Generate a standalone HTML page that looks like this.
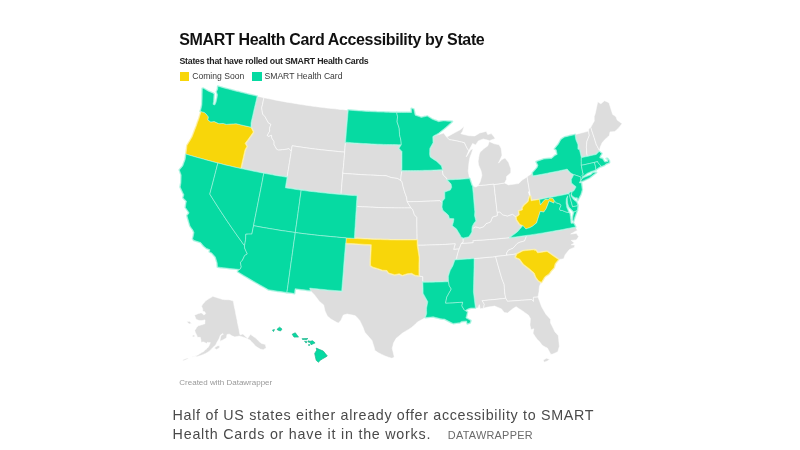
<!DOCTYPE html>
<html lang="en"><head><meta charset="utf-8"><title>SMART Health Card Accessibility by State</title>
<style>
html,body{margin:0;padding:0;background:#fff;}
body{width:800px;height:450px;position:relative;overflow:hidden;font-family:"Liberation Sans",sans-serif;color:#111;}
.t{position:absolute;white-space:nowrap;line-height:1;}
#title{left:179.3px;top:31.7px;font-size:16px;font-weight:bold;color:#111;letter-spacing:-0.36px;}
#sub{left:179.5px;top:56.9px;font-size:8.8px;font-weight:bold;color:#222;letter-spacing:-0.25px;}
.sw{position:absolute;top:71.8px;width:9.2px;height:9.2px;}
.lg{top:71.5px;font-size:8.6px;color:#3a3a3a;}
#credit{left:179.3px;top:379.2px;font-size:8px;color:#999;}
.cap{left:172.6px;font-size:14.3px;color:#4a4a4a;letter-spacing:0.68px;}
#dw{left:447.8px;top:429.5px;font-size:10.9px;color:#6a6a6a;letter-spacing:0.27px;}
svg{position:absolute;left:0;top:0;filter:blur(0.45px);}
.t{filter:blur(0.3px);}
.s{stroke:#fff;stroke-width:0.6;stroke-opacity:0.9;stroke-linejoin:round;}
.halo-t{fill:none;stroke:#b4f5e5;stroke-width:2;stroke-linejoin:round;}
.halo-y{fill:none;stroke:#fdf1ae;stroke-width:2;stroke-linejoin:round;}
.in-t{stroke:#c4f7ea;stroke-opacity:0.85;stroke-width:0.6;}
.in-y{stroke:#fdf3bb;stroke-opacity:0.85;stroke-width:0.6;}
.hi{stroke:#1fb48c;stroke-opacity:1;stroke-width:0.7;}
</style></head><body>
<svg width="800" height="450" viewBox="0 0 800 450">
<defs><path id="pOR" d="M200.4,111.3L202.4,111.9L204.3,112.4L206.1,114.1L207.3,115.5L208.4,116.9L207.9,120.1L209.3,121.0L210.8,122.0L212.4,121.8L214.1,121.5L216.5,122.6L218.9,123.7L221.1,123.6L223.2,123.4L224.8,123.9L226.5,124.4L228.8,124.2L231.2,124.0L233.5,123.9L236.0,123.7L238.5,124.3L241.0,124.9L243.5,125.5L246.0,126.1L248.4,126.6L250.9,127.2L252.1,129.6L253.3,132.0L251.2,135.1L249.0,138.1L247.1,140.7L245.1,143.3L246.8,146.4L245.0,149.8L244.1,153.5L243.3,157.2L242.4,161.0L241.6,164.7L240.7,168.5L237.9,167.8L235.0,167.2L232.1,166.5L229.3,165.8L226.4,165.2L223.6,164.5L220.8,163.7L217.9,163.0L215.0,162.3L212.1,161.5L209.2,160.7L206.2,159.9L203.3,159.1L200.4,158.3L197.5,157.5L194.6,156.7L191.7,155.8L188.8,155.0L185.9,154.1L186.3,151.2L186.7,148.4L187.0,145.5L188.7,142.7L190.4,139.9L192.1,137.0L193.5,133.4L194.9,129.7L196.3,126.1L197.5,122.6L198.8,119.1L199.9,115.5L201.0,112.0Z"/><path id="pOK" d="M346.2,237.9L348.9,238.1L351.6,238.2L354.3,238.4L357.6,238.6L360.9,238.8L364.2,239.0L367.5,239.1L370.8,239.3L374.1,239.4L377.4,239.5L380.7,239.6L384.1,239.7L387.4,239.8L390.7,239.9L394.0,239.9L397.3,240.0L400.6,240.0L403.9,240.0L407.2,240.0L410.5,240.0L413.8,240.0L417.1,239.9L417.1,242.6L417.2,245.3L417.8,249.2L418.4,253.1L419.0,257.0L419.0,260.8L418.9,264.5L418.9,268.3L418.9,272.1L418.9,275.8L417.0,275.5L415.1,275.2L413.4,274.3L411.6,273.3L409.4,273.5L407.2,273.7L404.8,274.5L402.3,275.3L399.2,273.7L397.0,274.2L394.8,274.7L391.7,273.8L388.7,273.0L387.0,270.5L384.8,270.3L382.6,270.2L380.0,269.3L377.4,268.4L375.2,267.8L373.0,267.2L370.5,265.4L370.6,261.2L370.8,257.1L371.0,252.9L371.2,248.8L371.3,244.7L368.2,244.5L365.0,244.4L361.8,244.2L358.6,244.0L355.4,243.8L352.2,243.6L349.0,243.4L345.8,243.2L346.0,240.5Z"/><path id="pWV" d="M516.3,217.1L517.8,215.9L519.3,214.7L518.8,211.0L520.6,210.5L522.4,209.9L522.4,207.8L524.1,205.3L526.2,203.4L528.3,201.4L528.9,198.9L529.6,196.4L530.4,196.2L530.7,198.5L531.1,200.8L533.9,200.3L536.7,199.9L539.5,199.4L540.0,202.1L540.4,204.8L541.7,203.2L543.0,201.5L545.4,199.1L548.1,199.7L549.8,197.9L552.8,198.2L554.0,200.2L554.4,201.0L553.9,203.1L551.5,202.0L549.1,200.9L548.2,203.5L547.2,206.0L546.2,208.6L545.0,210.3L543.8,212.1L542.0,211.7L540.2,211.4L539.0,215.2L537.8,219.0L536.6,222.9L534.6,224.5L532.5,226.2L529.5,227.8L527.7,228.3L525.9,228.9L524.4,227.3L522.9,225.6L519.9,224.4L518.3,222.0L516.7,219.7Z"/><path id="pSC" d="M517.1,253.9L520.0,252.4L522.9,250.9L525.9,250.6L528.8,250.3L531.7,250.0L534.7,249.7L534.8,250.8L535.7,250.1L537.5,252.8L540.6,252.4L543.8,251.9L547.0,251.5L549.9,253.5L552.7,255.6L555.6,257.6L558.5,259.6L556.8,261.6L555.2,263.6L554.6,265.6L554.1,267.6L552.6,269.2L551.1,270.8L548.9,273.9L546.8,275.3L544.8,276.7L543.0,279.7L541.4,282.3L538.7,280.9L537.2,279.0L535.8,277.1L535.0,275.0L534.2,273.0L531.6,270.7L529.0,268.4L526.3,266.4L523.5,264.3L521.6,261.7L519.7,259.1L517.6,258.2L515.5,257.3Z"/><path id="pWA" d="M200.4,111.3L201.2,108.2L201.9,105.1L202.0,103.5L202.1,100.2L202.2,96.9L202.2,94.1L202.3,91.2L202.3,88.4L203.3,88.3L205.6,89.6L207.8,90.9L210.1,91.9L212.5,92.9L214.0,93.9L213.8,97.1L213.7,99.2L213.6,101.4L213.0,104.3L214.8,105.0L216.1,102.1L216.5,100.0L217.0,98.0L217.5,94.8L216.5,91.8L217.7,88.9L217.8,86.2L220.4,86.9L223.0,87.7L225.6,88.4L228.2,89.1L230.8,89.8L233.4,90.5L236.1,91.2L238.7,91.8L241.3,92.5L243.9,93.1L246.6,93.8L249.2,94.4L251.9,95.0L254.5,95.6L257.1,96.2L256.3,100.0L255.4,103.8L254.5,107.6L253.6,111.4L252.8,115.2L251.9,119.0L251.0,122.9L251.0,125.0L250.9,127.2L248.4,126.6L246.0,126.1L243.5,125.5L241.0,124.9L238.5,124.3L236.0,123.7L233.5,123.9L231.2,124.0L228.8,124.2L226.5,124.4L224.8,123.9L223.2,123.4L221.1,123.6L218.9,123.7L216.5,122.6L214.1,121.5L212.4,121.8L210.8,122.0L209.3,121.0L207.9,120.1L208.4,116.9L207.3,115.5L206.1,114.1L204.3,112.4L202.4,111.9Z"/><path id="pCA" d="M185.9,154.1L188.8,155.0L191.7,155.8L194.6,156.7L197.5,157.5L200.4,158.3L203.3,159.1L206.2,159.9L209.2,160.7L212.1,161.5L215.0,162.3L217.9,163.0L216.9,166.9L215.9,170.8L214.9,174.7L213.9,178.5L212.9,182.4L211.9,186.3L210.8,190.2L209.8,194.1L211.7,197.1L213.6,200.2L215.6,203.3L217.5,206.3L219.5,209.4L221.5,212.5L223.5,215.5L225.5,218.6L227.5,221.6L229.6,224.6L231.7,227.7L233.8,230.7L235.9,233.7L238.0,236.7L240.2,239.7L242.3,242.7L244.5,245.7L244.6,247.9L245.9,250.9L247.3,253.9L244.6,255.6L243.5,258.0L242.3,260.5L240.4,262.3L240.8,264.6L241.3,266.9L239.9,269.5L239.0,269.4L235.9,269.1L232.8,268.8L229.8,268.5L226.7,268.1L223.6,267.8L220.6,267.4L217.5,267.0L217.2,262.9L216.3,260.0L215.4,257.0L213.6,255.0L211.8,252.9L209.4,251.8L209.9,249.7L208.2,249.0L206.6,248.4L205.1,247.2L203.6,246.0L202.2,244.3L200.8,242.5L198.5,241.8L196.1,241.0L193.7,240.2L192.7,238.8L193.4,235.7L194.0,232.5L192.9,230.0L191.4,228.0L190.0,225.9L189.0,222.5L188.0,219.1L187.0,215.7L189.1,212.9L187.9,210.9L186.7,209.2L185.4,207.4L185.9,204.2L186.4,201.0L184.7,199.4L183.0,197.8L183.9,194.8L182.6,192.2L181.4,189.6L180.2,187.0L180.6,184.9L181.0,182.8L181.1,178.9L181.2,175.0L180.3,172.5L179.4,170.0L181.1,168.0L182.8,166.0L184.0,162.7L185.2,159.5L185.6,156.8Z"/><path id="pNV" d="M217.9,163.0L220.8,163.7L223.6,164.5L226.4,165.2L229.3,165.8L232.1,166.5L235.0,167.2L237.9,167.8L240.7,168.5L243.6,169.1L246.5,169.7L249.4,170.3L252.3,170.9L255.1,171.5L258.0,172.1L260.9,172.7L263.8,173.2L263.0,177.3L262.3,181.3L261.5,185.3L260.7,189.4L259.9,193.4L259.1,197.4L258.3,201.5L257.5,205.5L256.7,209.6L255.9,213.6L255.1,217.6L254.3,221.7L253.6,225.7L252.7,229.9L251.9,234.1L248.9,234.1L245.8,234.2L245.7,236.8L245.6,239.4L245.1,242.6L244.5,245.7L242.3,242.7L240.2,239.7L238.0,236.7L235.9,233.7L233.8,230.7L231.7,227.7L229.6,224.6L227.5,221.6L225.5,218.6L223.5,215.5L221.5,212.5L219.5,209.4L217.5,206.3L215.6,203.3L213.6,200.2L211.7,197.1L209.8,194.1L210.8,190.2L211.9,186.3L212.9,182.4L213.9,178.5L214.9,174.7L215.9,170.8L216.9,166.9Z"/><path id="pUT" d="M263.8,173.2L266.7,173.8L269.6,174.3L272.5,174.8L275.4,175.4L278.3,175.9L281.3,176.3L284.2,176.8L287.1,177.3L286.5,180.8L285.9,184.3L285.4,187.8L288.0,188.2L290.7,188.6L293.3,189.0L295.9,189.4L298.6,189.8L301.2,190.2L300.7,194.0L300.1,197.9L299.6,201.7L299.1,205.6L298.5,209.4L298.0,213.3L297.5,217.1L296.9,221.0L296.4,224.8L295.8,228.7L295.3,232.5L292.1,232.1L288.9,231.6L285.6,231.1L282.4,230.7L279.2,230.2L276.0,229.6L272.8,229.1L269.6,228.6L266.4,228.0L263.2,227.5L260.0,226.9L256.8,226.3L253.6,225.7L254.3,221.7L255.1,217.6L255.9,213.6L256.7,209.6L257.5,205.5L258.3,201.5L259.1,197.4L259.9,193.4L260.7,189.4L261.5,185.3L262.3,181.3L263.0,177.3Z"/><path id="pCO" d="M301.2,190.2L304.3,190.6L307.3,191.0L310.4,191.4L313.4,191.7L316.5,192.1L319.6,192.4L322.6,192.8L325.7,193.1L328.8,193.4L331.8,193.7L334.9,194.0L338.0,194.3L341.0,194.6L343.7,194.8L346.3,195.0L349.0,195.2L351.7,195.4L354.3,195.6L357.0,195.7L356.8,199.3L356.5,202.8L356.3,206.4L356.1,210.4L355.8,214.4L355.6,218.4L355.3,222.4L355.1,226.4L354.8,230.4L354.6,234.4L354.3,238.4L351.6,238.2L348.9,238.1L346.2,237.9L343.0,237.6L339.8,237.4L336.7,237.1L333.5,236.8L330.3,236.5L327.1,236.2L323.9,235.9L320.7,235.6L317.5,235.3L314.4,234.9L311.2,234.5L308.0,234.2L304.8,233.8L301.7,233.4L298.5,233.0L295.3,232.5L295.8,228.7L296.4,224.8L296.9,221.0L297.5,217.1L298.0,213.3L298.5,209.4L299.1,205.6L299.6,201.7L300.1,197.9L300.7,194.0Z"/><path id="pAZ" d="M253.6,225.7L256.8,226.3L260.0,226.9L263.2,227.5L266.4,228.0L269.6,228.6L272.8,229.1L276.0,229.6L279.2,230.2L282.4,230.7L285.6,231.1L288.9,231.6L292.1,232.1L295.3,232.5L294.8,236.5L294.2,240.5L293.6,244.5L293.1,248.5L292.5,252.5L292.0,256.5L291.4,260.5L290.8,264.5L290.3,268.5L289.7,272.5L289.2,276.5L288.6,280.5L288.1,284.5L287.5,288.5L286.9,292.5L283.9,292.0L280.9,291.6L277.8,291.2L274.8,290.7L271.8,290.2L268.7,289.8L265.6,288.0L262.4,286.2L259.3,284.5L256.2,282.7L253.1,280.9L250.0,279.1L246.9,277.2L243.8,275.4L240.7,273.5L237.7,271.7L239.0,269.4L239.9,269.5L241.3,266.9L240.8,264.6L240.4,262.3L242.3,260.5L243.5,258.0L244.6,255.6L247.3,253.9L245.9,250.9L244.6,247.9L244.5,245.7L245.1,242.6L245.6,239.4L245.7,236.8L245.8,234.2L248.9,234.1L251.9,234.1L252.7,229.9Z"/><path id="pNM" d="M295.3,232.5L298.5,233.0L301.7,233.4L304.8,233.8L308.0,234.2L311.2,234.5L314.4,234.9L317.5,235.3L320.7,235.6L323.9,235.9L327.1,236.2L330.3,236.5L333.5,236.8L336.7,237.1L339.8,237.4L343.0,237.6L346.2,237.9L346.0,240.5L345.8,243.2L345.5,243.2L345.2,247.2L344.9,251.2L344.5,255.2L344.2,259.2L343.9,263.1L343.6,267.1L343.3,271.1L343.0,275.1L342.7,279.1L342.3,283.1L342.0,287.1L341.7,291.0L338.2,290.8L334.6,290.5L331.0,290.2L327.5,289.9L323.9,289.5L320.4,289.2L316.8,288.8L313.3,288.5L309.7,288.1L310.3,290.5L307.2,290.2L304.2,289.8L301.2,289.5L298.2,289.1L295.1,288.7L294.8,291.1L294.5,293.5L292.0,293.1L289.5,292.8L286.9,292.5L287.5,288.5L288.1,284.5L288.6,280.5L289.2,276.5L289.7,272.5L290.3,268.5L290.8,264.5L291.4,260.5L292.0,256.5L292.5,252.5L293.1,248.5L293.6,244.5L294.2,240.5L294.8,236.5Z"/><path id="pND" d="M348.3,110.1L351.0,110.3L353.6,110.5L356.3,110.7L359.0,110.9L361.7,111.1L364.4,111.3L367.1,111.4L369.8,111.6L372.5,111.7L375.1,111.8L377.8,112.0L380.5,112.1L383.2,112.1L385.9,112.2L388.6,112.3L391.3,112.4L394.0,112.4L396.7,112.5L397.1,114.6L397.6,116.7L397.3,119.3L397.1,121.9L398.2,125.1L399.2,128.2L399.4,131.4L399.5,134.5L400.3,137.7L401.0,140.9L401.3,144.7L398.3,144.7L395.4,144.6L392.4,144.6L389.5,144.5L386.6,144.5L383.6,144.4L380.7,144.3L377.8,144.2L374.8,144.1L371.9,143.9L369.0,143.8L366.0,143.6L363.1,143.5L360.2,143.3L357.2,143.1L354.3,142.9L351.4,142.7L348.4,142.4L345.5,142.2L345.9,138.2L346.2,134.1L346.5,130.1L346.9,126.1L347.2,122.1L347.6,118.1L347.9,114.1Z"/><path id="pMN" d="M396.7,112.5L399.1,112.5L401.6,112.5L404.1,112.5L406.5,112.5L409.0,112.5L411.5,112.5L411.4,108.5L413.8,109.1L414.4,112.1L415.1,115.2L417.1,115.9L419.2,116.6L421.2,117.4L423.2,117.0L425.2,116.6L427.2,116.1L429.6,117.6L432.0,119.1L434.2,120.0L436.4,120.8L438.6,121.7L440.9,121.3L443.3,120.9L445.5,121.0L447.8,121.2L450.1,121.3L452.3,121.4L450.1,123.4L447.9,125.4L445.6,127.4L443.4,129.3L440.9,131.3L438.4,133.3L436.3,134.4L434.1,135.6L432.8,136.6L432.9,139.7L433.0,142.8L431.4,145.6L429.8,148.4L429.7,151.3L429.6,154.3L430.1,156.9L431.8,158.2L433.6,159.4L435.2,160.4L436.7,161.4L439.1,163.7L441.5,166.0L442.3,169.7L439.5,169.8L436.6,169.9L433.7,170.1L430.8,170.2L427.9,170.3L425.0,170.3L422.1,170.4L419.3,170.5L416.4,170.5L413.5,170.6L410.6,170.6L407.7,170.6L404.8,170.6L401.9,170.6L402.0,166.8L402.0,162.9L402.0,159.1L402.0,155.3L402.0,151.5L400.5,149.9L399.1,148.3L400.2,146.5L401.3,144.7L401.0,140.9L400.3,137.7L399.5,134.5L399.4,131.4L399.2,128.2L398.2,125.1L397.1,121.9L397.3,119.3L397.6,116.7L397.1,114.6Z"/><path id="pIL" d="M447.4,180.0L450.2,179.8L453.0,179.7L455.8,179.5L458.5,179.4L461.3,179.2L464.1,179.0L466.9,178.8L469.6,178.6L470.7,181.9L471.8,185.3L472.5,186.2L472.8,189.8L473.2,193.5L473.5,197.2L473.8,200.8L474.1,204.5L474.4,208.2L474.8,211.8L474.5,215.6L475.2,218.2L475.8,220.9L473.9,223.2L472.2,226.5L471.9,228.7L471.8,231.9L470.3,234.4L468.8,236.8L466.0,237.4L463.2,238.0L461.0,237.0L460.2,235.0L458.3,231.9L456.4,228.8L454.4,227.3L452.4,225.8L453.0,223.6L453.6,221.4L453.9,218.7L451.7,218.6L449.5,218.5L448.5,215.3L446.7,213.6L444.8,211.9L442.9,210.2L442.0,207.1L442.4,203.0L442.5,201.2L444.8,198.4L444.8,195.2L444.8,192.0L447.6,191.0L450.3,190.1L451.7,187.3L451.1,184.1L449.3,182.1Z"/><path id="pLA" d="M422.9,282.3L426.1,282.3L429.3,282.2L432.5,282.2L435.7,282.1L438.9,282.0L442.1,281.9L445.3,281.8L448.5,281.7L448.9,283.8L449.3,285.9L451.3,289.0L450.1,291.2L448.8,293.4L447.8,295.3L446.7,297.2L446.2,300.1L445.6,303.1L449.1,302.9L452.5,302.8L455.9,302.6L459.3,302.4L462.7,302.1L461.9,305.9L462.9,307.7L464.0,309.5L465.2,310.7L467.4,311.9L466.7,315.2L465.9,317.9L468.4,319.3L470.8,320.7L470.0,322.9L467.3,323.8L466.6,321.0L464.0,321.2L461.5,321.4L459.7,322.7L456.4,323.1L453.2,323.4L451.2,322.5L449.3,321.5L446.9,320.3L444.5,319.1L442.7,318.9L440.8,318.7L438.3,318.1L435.8,317.5L433.3,316.8L430.7,317.1L428.1,317.3L425.5,317.6L426.1,315.5L426.7,313.3L426.6,310.7L426.6,308.0L427.2,304.9L427.8,301.8L426.6,299.6L425.4,297.4L424.3,295.4L423.1,293.3L423.1,289.7L423.0,286.0Z"/><path id="pMS" d="M454.9,259.9L458.0,259.7L461.0,259.5L464.0,259.3L467.1,259.1L470.1,258.9L473.1,258.6L474.1,259.6L474.0,263.7L474.0,267.7L473.9,271.7L473.8,275.7L473.7,279.7L473.6,283.8L473.5,287.8L473.4,291.8L473.9,295.8L474.4,299.9L474.9,303.9L475.4,307.9L473.1,308.0L470.8,308.0L469.0,308.6L467.2,309.3L465.2,310.7L464.0,309.5L462.9,307.7L461.9,305.9L462.7,302.1L459.3,302.4L455.9,302.6L452.5,302.8L449.1,302.9L445.6,303.1L446.2,300.1L446.7,297.2L447.8,295.3L448.8,293.4L450.1,291.2L451.3,289.0L449.3,285.9L448.9,283.8L448.5,281.7L448.4,279.0L448.4,276.3L449.3,273.3L450.3,270.3L451.6,268.1L452.8,265.9L453.9,262.9Z"/><path id="pNY" d="M573.8,174.6L572.1,173.7L570.5,172.8L568.8,170.9L567.2,169.1L564.4,169.7L561.5,170.3L558.7,170.9L555.8,171.5L553.0,172.1L550.2,172.6L547.3,173.2L544.5,173.7L541.6,174.3L538.8,174.8L535.9,175.3L533.0,175.8L532.5,172.9L534.1,171.1L535.7,169.3L537.2,167.5L538.0,165.2L536.2,161.7L538.8,160.8L541.3,159.9L543.9,159.0L546.5,158.8L549.1,158.6L551.7,158.4L553.4,156.9L555.0,155.4L557.2,154.4L556.7,152.0L556.2,149.7L554.5,149.0L556.3,146.7L558.2,144.4L559.6,141.9L561.0,139.4L562.8,138.2L564.7,137.0L567.3,136.4L569.8,135.8L572.4,135.2L575.0,134.6L575.4,137.2L575.9,139.8L576.9,142.3L577.9,144.8L577.9,147.0L577.9,149.2L579.4,149.4L580.0,152.1L580.7,154.9L581.3,157.7L581.3,161.5L581.3,165.3L582.1,169.3L582.8,173.2L583.6,174.1L581.9,175.6L582.7,176.5L582.1,178.7L580.7,180.3L580.8,177.0L578.5,176.2L576.2,175.4ZM580.7,181.4L583.0,180.9L585.1,179.9L587.2,178.9L589.3,177.9L591.7,176.1L594.1,174.2L596.4,172.4L594.7,172.5L593.0,172.7L591.0,174.8L588.8,175.6L586.5,176.4L584.4,177.3L582.4,178.3L581.1,179.7Z"/><path id="pMA" d="M581.3,157.7L583.4,157.2L585.4,156.8L587.5,156.4L590.4,155.7L593.4,155.1L596.3,154.4L597.0,153.7L598.9,151.8L599.5,151.7L601.8,153.5L600.1,156.2L599.7,157.9L602.3,158.4L603.8,160.7L604.7,162.1L606.4,161.8L608.1,161.4L607.6,159.1L606.3,158.6L607.7,158.6L609.3,160.9L609.4,162.5L607.7,163.3L605.9,164.0L604.4,165.3L602.0,166.2L601.0,166.4L599.9,164.7L597.9,162.8L597.6,161.6L596.0,162.0L594.4,162.4L591.8,163.0L589.2,163.6L586.6,164.2L583.9,164.8L581.3,165.3L581.3,161.5Z"/><path id="pCT" d="M581.3,165.3L583.9,164.8L586.6,164.2L589.2,163.6L591.8,163.0L594.4,162.4L595.0,164.6L595.6,166.7L595.9,169.8L593.5,170.7L591.0,171.5L589.2,172.4L587.3,173.2L585.0,174.9L582.7,176.5L581.9,175.6L583.6,174.1L582.8,173.2L582.1,169.3Z"/><path id="pRI" d="M594.4,162.4L596.0,162.0L597.6,161.6L597.9,162.8L599.9,164.7L601.0,166.4L599.0,167.5L597.5,168.6L595.9,169.8L595.6,166.7L595.0,164.6Z"/><path id="pNJ" d="M573.8,174.6L576.2,175.4L578.5,176.2L580.8,177.0L580.7,180.3L579.3,182.8L581.4,182.9L581.8,186.4L582.2,189.8L581.5,192.2L580.8,194.5L579.2,197.5L577.6,200.4L577.4,197.8L575.3,197.8L572.4,196.2L571.4,194.4L571.9,192.1L574.1,190.6L575.1,188.7L576.1,186.8L573.8,184.9L571.5,182.9L571.3,179.4L572.6,177.0Z"/><path id="pVA" d="M510.0,237.6L512.8,237.2L515.6,236.9L518.4,236.5L521.2,236.1L524.0,235.7L526.8,235.3L530.1,234.9L533.4,234.4L536.6,233.9L539.9,233.4L543.1,232.9L546.4,232.3L549.6,231.8L552.9,231.2L556.1,230.6L559.4,230.1L562.6,229.5L565.9,228.8L569.1,228.2L572.3,227.6L575.6,226.9L574.6,225.1L573.6,223.2L571.0,223.3L570.7,219.8L570.3,216.6L569.8,213.4L568.8,212.5L566.1,212.0L564.2,211.3L562.4,210.5L560.2,210.4L559.5,208.9L561.0,205.5L560.1,204.1L558.4,203.5L556.6,202.9L554.4,201.0L553.9,203.1L551.5,202.0L549.1,200.9L548.2,203.5L547.2,206.0L546.2,208.6L545.0,210.3L543.8,212.1L542.0,211.7L540.2,211.4L539.0,215.2L537.8,219.0L536.6,222.9L534.6,224.5L532.5,226.2L529.5,227.8L527.7,228.3L525.9,228.9L524.4,227.3L522.9,225.6L521.1,227.7L519.3,229.7L517.6,231.7L515.0,233.7L512.5,235.6ZM573.8,212.0L575.6,211.2L577.3,210.3L576.7,211.9L575.4,215.5L574.4,218.4L573.5,221.4L572.7,219.9L572.9,216.0L573.4,214.0Z"/><path id="pMD" d="M539.5,199.4L542.4,198.9L545.4,198.3L548.4,197.8L551.3,197.2L554.3,196.7L557.2,196.1L560.2,195.5L563.1,194.9L566.1,194.3L569.0,193.7L569.9,196.9L570.8,200.2L571.7,203.4L572.6,206.7L575.2,206.1L577.9,205.6L577.6,208.0L577.3,210.3L575.6,211.2L573.8,212.0L571.6,209.7L568.9,207.0L568.2,205.0L567.6,202.9L567.4,200.8L567.3,198.6L567.7,195.8L566.3,198.8L566.2,201.0L566.1,203.2L566.5,205.3L566.8,207.4L567.7,209.5L568.5,211.5L568.8,212.5L566.1,212.0L564.2,211.3L562.4,210.5L560.2,210.4L559.5,208.9L561.0,205.5L560.1,204.1L558.4,203.5L556.6,202.9L554.4,201.0L554.0,200.2L552.8,198.2L549.8,197.9L548.1,199.7L545.4,199.1L543.0,201.5L541.7,203.2L540.4,204.8L540.0,202.1Z"/><path id="pDE" d="M569.0,193.7L570.2,192.1L571.9,192.1L571.0,194.5L571.1,196.1L573.4,199.5L575.0,200.8L576.7,202.1L577.9,205.6L575.2,206.1L572.6,206.7L571.7,203.4L570.8,200.2L569.9,196.9Z"/></defs>
<g class="s"><path fill="#dddddd" d="M257.1,96.2L259.4,96.7L261.7,97.2L263.9,97.7L263.2,101.1L262.5,104.5L261.7,107.9L262.2,111.0L262.6,114.0L263.9,115.4L265.1,116.7L266.2,118.8L267.4,121.0L268.6,123.1L271.0,124.3L270.2,126.3L269.5,128.3L269.7,131.1L268.5,133.3L267.3,135.5L268.6,136.3L271.5,135.2L271.8,137.9L272.9,139.8L274.1,141.6L274.0,144.3L275.3,146.7L276.6,149.1L278.0,149.9L280.1,149.8L282.2,149.6L284.2,149.5L286.6,149.0L289.0,148.5L290.2,149.9L291.3,151.3L290.7,155.0L290.1,158.7L289.5,162.4L288.9,166.1L288.3,169.9L287.7,173.6L287.1,177.3L284.2,176.8L281.3,176.3L278.3,175.9L275.4,175.4L272.5,174.8L269.6,174.3L266.7,173.8L263.8,173.2L260.9,172.7L258.0,172.1L255.1,171.5L252.3,170.9L249.4,170.3L246.5,169.7L243.6,169.1L240.7,168.5L241.6,164.7L242.4,161.0L243.3,157.2L244.1,153.5L245.0,149.8L246.8,146.4L245.1,143.3L247.1,140.7L249.0,138.1L251.2,135.1L253.3,132.0L252.1,129.6L250.9,127.2L251.0,125.0L251.0,122.9L251.9,119.0L252.8,115.2L253.6,111.4L254.5,107.6L255.4,103.8L256.3,100.0Z"/><path fill="#dddddd" d="M263.9,97.7L266.6,98.3L269.3,98.8L272.0,99.3L274.7,99.9L277.4,100.4L280.1,100.9L282.8,101.4L285.5,101.9L288.3,102.4L291.0,102.8L293.7,103.3L296.4,103.7L299.1,104.2L301.8,104.6L304.5,105.0L307.3,105.4L310.0,105.8L312.7,106.2L315.4,106.6L318.2,106.9L320.9,107.3L323.6,107.6L326.4,107.9L329.1,108.2L331.8,108.5L334.6,108.8L337.3,109.1L340.0,109.4L342.8,109.6L345.5,109.9L348.3,110.1L347.9,114.1L347.6,118.1L347.2,122.1L346.9,126.1L346.5,130.1L346.2,134.1L345.9,138.2L345.5,142.2L345.2,145.5L344.9,148.8L344.7,152.1L341.7,151.9L338.8,151.6L335.9,151.3L333.0,151.0L330.0,150.7L327.1,150.4L324.2,150.1L321.3,149.8L318.4,149.4L315.4,149.1L312.5,148.7L309.6,148.3L306.7,147.9L303.8,147.5L300.9,147.1L298.0,146.7L295.1,146.2L292.2,145.8L291.7,148.5L291.3,151.3L290.2,149.9L289.0,148.5L286.6,149.0L284.2,149.5L282.2,149.6L280.1,149.8L278.0,149.9L276.6,149.1L275.3,146.7L274.0,144.3L274.1,141.6L272.9,139.8L271.8,137.9L271.5,135.2L268.6,136.3L267.3,135.5L268.5,133.3L269.7,131.1L269.5,128.3L270.2,126.3L271.0,124.3L268.6,123.1L267.4,121.0L266.2,118.8L265.1,116.7L263.9,115.4L262.6,114.0L262.2,111.0L261.7,107.9L262.5,104.5L263.2,101.1Z"/><path fill="#dddddd" d="M291.3,151.3L291.7,148.5L292.2,145.8L295.1,146.2L298.0,146.7L300.9,147.1L303.8,147.5L306.7,147.9L309.6,148.3L312.5,148.7L315.4,149.1L318.4,149.4L321.3,149.8L324.2,150.1L327.1,150.4L330.0,150.7L333.0,151.0L335.9,151.3L338.8,151.6L341.7,151.9L344.7,152.1L344.4,155.6L344.1,159.2L343.8,162.7L343.5,166.2L343.1,169.8L342.8,173.3L342.5,176.8L342.2,180.4L341.9,183.9L341.6,187.5L341.3,191.0L341.0,194.6L338.0,194.3L334.9,194.0L331.8,193.7L328.8,193.4L325.7,193.1L322.6,192.8L319.6,192.4L316.5,192.1L313.4,191.7L310.4,191.4L307.3,191.0L304.3,190.6L301.2,190.2L298.6,189.8L295.9,189.4L293.3,189.0L290.7,188.6L288.0,188.2L285.4,187.8L285.9,184.3L286.5,180.8L287.1,177.3L287.7,173.6L288.3,169.9L288.9,166.1L289.5,162.4L290.1,158.7L290.7,155.0Z"/><path fill="#dddddd" d="M345.5,142.2L348.4,142.4L351.4,142.7L354.3,142.9L357.2,143.1L360.2,143.3L363.1,143.5L366.0,143.6L369.0,143.8L371.9,143.9L374.8,144.1L377.8,144.2L380.7,144.3L383.6,144.4L386.6,144.5L389.5,144.5L392.4,144.6L395.4,144.6L398.3,144.7L401.3,144.7L400.2,146.5L399.1,148.3L400.5,149.9L402.0,151.5L402.0,155.3L402.0,159.1L402.0,162.9L402.0,166.8L401.9,170.6L401.5,173.3L401.1,175.9L400.9,178.3L400.7,180.7L401.9,181.3L399.7,179.9L397.6,178.5L395.3,178.2L392.9,177.8L390.6,177.4L388.3,176.5L386.0,175.7L382.9,175.6L379.8,175.5L376.7,175.4L373.6,175.2L370.6,175.1L367.5,175.0L364.4,174.8L361.3,174.6L358.2,174.4L355.2,174.2L352.1,174.0L349.0,173.8L345.9,173.6L342.8,173.3L343.1,169.8L343.5,166.2L343.8,162.7L344.1,159.2L344.4,155.6L344.7,152.1L344.9,148.8L345.2,145.5Z"/><path fill="#dddddd" d="M342.8,173.3L345.9,173.6L349.0,173.8L352.1,174.0L355.2,174.2L358.2,174.4L361.3,174.6L364.4,174.8L367.5,175.0L370.6,175.1L373.6,175.2L376.7,175.4L379.8,175.5L382.9,175.6L386.0,175.7L388.3,176.5L390.6,177.4L392.9,177.8L395.3,178.2L397.6,178.5L399.7,179.9L401.9,181.3L402.5,184.0L403.1,186.6L403.8,189.2L404.6,191.9L405.6,194.6L406.6,197.3L406.9,199.5L407.3,201.7L409.1,204.8L411.0,207.9L407.8,207.9L404.6,207.9L401.4,207.9L398.1,207.9L394.9,207.9L391.7,207.8L388.5,207.8L385.3,207.7L382.0,207.6L378.8,207.5L375.6,207.4L372.4,207.2L369.2,207.1L366.0,206.9L362.7,206.8L359.5,206.6L356.3,206.4L356.5,202.8L356.8,199.3L357.0,195.7L354.3,195.6L351.7,195.4L349.0,195.2L346.3,195.0L343.7,194.8L341.0,194.6L341.3,191.0L341.6,187.5L341.9,183.9L342.2,180.4L342.5,176.8Z"/><path fill="#dddddd" d="M356.3,206.4L359.5,206.6L362.7,206.8L366.0,206.9L369.2,207.1L372.4,207.2L375.6,207.4L378.8,207.5L382.0,207.6L385.3,207.7L388.5,207.8L391.7,207.8L394.9,207.9L398.1,207.9L401.4,207.9L404.6,207.9L407.8,207.9L411.0,207.9L412.7,209.5L413.6,212.2L414.4,214.8L416.9,217.4L416.9,221.1L416.9,224.9L417.0,228.7L417.0,232.4L417.1,236.2L417.1,239.9L413.8,240.0L410.5,240.0L407.2,240.0L403.9,240.0L400.6,240.0L397.3,240.0L394.0,239.9L390.7,239.9L387.4,239.8L384.1,239.7L380.7,239.6L377.4,239.5L374.1,239.4L370.8,239.3L367.5,239.1L364.2,239.0L360.9,238.8L357.6,238.6L354.3,238.4L354.6,234.4L354.8,230.4L355.1,226.4L355.3,222.4L355.6,218.4L355.8,214.4L356.1,210.4Z"/><path fill="#dddddd" d="M345.8,243.2L349.0,243.4L352.2,243.6L355.4,243.8L358.6,244.0L361.8,244.2L365.0,244.4L368.2,244.5L371.3,244.7L371.2,248.8L371.0,252.9L370.8,257.1L370.6,261.2L370.5,265.4L373.0,267.2L375.2,267.8L377.4,268.4L380.0,269.3L382.6,270.2L384.8,270.3L387.0,270.5L388.7,273.0L391.7,273.8L394.8,274.7L397.0,274.2L399.2,273.7L402.3,275.3L404.8,274.5L407.2,273.7L409.4,273.5L411.6,273.3L413.4,274.3L415.1,275.2L417.0,275.5L418.9,275.8L420.8,276.3L422.8,276.7L422.8,279.5L422.9,282.3L423.0,286.0L423.1,289.7L423.1,293.3L424.3,295.4L425.4,297.4L426.6,299.6L427.8,301.8L427.2,304.9L426.6,308.0L426.6,310.7L426.7,313.3L426.1,315.5L425.5,317.6L422.9,319.1L420.2,320.5L417.6,322.0L415.9,323.6L414.3,325.2L411.5,327.5L408.6,329.4L405.6,331.2L402.6,333.0L400.5,334.7L398.5,336.4L396.4,338.1L394.9,340.6L393.5,343.1L392.9,345.7L392.2,348.3L392.9,351.3L393.6,354.2L394.3,357.2L391.8,358.3L388.4,357.2L385.1,356.1L381.7,354.4L378.4,352.8L376.6,351.6L374.9,350.5L374.0,346.8L373.0,343.7L372.0,340.5L369.6,337.7L367.2,335.0L364.8,332.2L363.9,329.8L363.1,327.4L361.4,323.9L359.7,320.4L357.5,318.0L355.3,315.7L352.6,315.1L349.8,314.6L347.1,314.0L345.2,314.6L343.3,315.1L342.1,317.7L341.0,320.3L338.5,323.0L337.1,322.6L333.9,320.8L330.8,318.9L329.1,317.5L327.3,316.0L326.2,313.5L325.0,311.0L324.3,308.0L323.7,305.0L321.6,303.2L319.4,301.4L317.8,299.3L316.2,297.2L314.6,295.0L312.4,292.8L310.3,290.5L309.7,288.1L313.3,288.5L316.8,288.8L320.4,289.2L323.9,289.5L327.5,289.9L331.0,290.2L334.6,290.5L338.2,290.8L341.7,291.0L342.0,287.1L342.3,283.1L342.7,279.1L343.0,275.1L343.3,271.1L343.6,267.1L343.9,263.1L344.2,259.2L344.5,255.2L344.9,251.2L345.2,247.2L345.5,243.2Z"/><path fill="#dddddd" d="M401.9,170.6L404.8,170.6L407.7,170.6L410.6,170.6L413.5,170.6L416.4,170.5L419.3,170.5L422.1,170.4L425.0,170.3L427.9,170.3L430.8,170.2L433.7,170.1L436.6,169.9L439.5,169.8L442.3,169.7L442.7,172.3L443.2,175.0L445.0,176.7L446.9,178.5L447.4,180.0L449.3,182.1L451.1,184.1L451.7,187.3L450.3,190.1L447.6,191.0L444.8,192.0L444.8,195.2L444.8,198.4L442.5,201.2L442.4,203.0L439.8,200.7L436.8,200.8L433.9,201.0L430.9,201.1L428.0,201.2L425.0,201.3L422.1,201.4L419.1,201.5L416.2,201.6L413.2,201.6L410.2,201.7L407.3,201.7L406.9,199.5L406.6,197.3L405.6,194.6L404.6,191.9L403.8,189.2L403.1,186.6L402.5,184.0L401.9,181.3L400.7,180.7L400.9,178.3L401.1,175.9L401.5,173.3Z"/><path fill="#dddddd" d="M407.3,201.7L410.2,201.7L413.2,201.6L416.2,201.6L419.1,201.5L422.1,201.4L425.0,201.3L428.0,201.2L430.9,201.1L433.9,201.0L436.8,200.8L439.8,200.7L442.4,203.0L442.0,207.1L442.9,210.2L444.8,211.9L446.7,213.6L448.5,215.3L449.5,218.5L451.7,218.6L453.9,218.7L453.6,221.4L453.0,223.6L452.4,225.8L454.4,227.3L456.4,228.8L458.3,231.9L460.2,235.0L461.0,237.0L463.2,238.0L463.2,240.1L463.2,242.2L461.4,243.4L460.5,245.7L459.2,249.0L456.4,249.2L453.6,249.4L454.4,246.6L455.2,243.8L452.1,244.0L448.9,244.2L445.7,244.4L442.6,244.5L439.4,244.7L436.2,244.8L433.0,244.9L429.9,245.0L426.7,245.1L423.5,245.2L420.4,245.2L417.2,245.3L417.1,242.6L417.1,239.9L417.1,236.2L417.0,232.4L417.0,228.7L416.9,224.9L416.9,221.1L416.9,217.4L414.4,214.8L413.6,212.2L412.7,209.5L411.0,207.9L409.1,204.8Z"/><path fill="#dddddd" d="M417.2,245.3L420.4,245.2L423.5,245.2L426.7,245.1L429.9,245.0L433.0,244.9L436.2,244.8L439.4,244.7L442.6,244.5L445.7,244.4L448.9,244.2L452.1,244.0L455.2,243.8L454.4,246.6L453.6,249.4L456.4,249.2L459.2,249.0L458.4,251.4L457.6,253.9L457.1,256.2L456.6,258.4L454.9,259.9L453.9,262.9L452.8,265.9L451.6,268.1L450.3,270.3L449.3,273.3L448.4,276.3L448.4,279.0L448.5,281.7L445.3,281.8L442.1,281.9L438.9,282.0L435.7,282.1L432.5,282.2L429.3,282.2L426.1,282.3L422.9,282.3L422.8,279.5L422.8,276.7L420.8,276.3L418.9,275.8L418.9,272.1L418.9,268.3L418.9,264.5L419.0,260.8L419.0,257.0L418.4,253.1L417.8,249.2Z"/><path fill="#dddddd" d="M473.1,258.6L476.3,258.4L479.6,258.1L482.8,257.8L486.0,257.5L489.2,257.2L492.4,256.9L495.6,256.5L496.6,260.2L497.6,263.9L498.7,267.6L499.7,271.3L500.8,275.0L501.9,278.7L503.0,281.6L504.2,284.5L504.4,288.5L504.7,292.5L505.2,295.4L505.8,298.3L502.4,298.6L499.0,299.0L495.7,299.4L492.3,299.7L488.9,300.0L485.5,300.4L482.1,300.7L483.2,302.4L484.3,304.2L483.6,308.2L480.1,308.8L479.7,306.7L479.3,304.6L478.2,307.9L475.4,307.9L474.9,303.9L474.4,299.9L473.9,295.8L473.4,291.8L473.5,287.8L473.6,283.8L473.7,279.7L473.8,275.7L473.9,271.7L474.0,267.7L474.0,263.7L474.1,259.6Z"/><path fill="#dddddd" d="M461.4,243.4L464.4,243.2L467.3,243.0L470.2,242.8L473.1,242.6L472.8,240.7L476.1,240.4L479.5,240.2L482.9,240.0L486.3,239.7L489.7,239.5L493.1,239.2L496.5,238.9L499.8,238.6L503.2,238.3L506.6,237.9L510.0,237.6L512.8,237.2L515.6,236.9L518.4,236.5L521.2,236.1L524.0,235.7L526.8,235.3L525.7,238.2L524.5,241.0L522.2,241.6L519.9,242.2L517.1,243.6L515.0,246.0L512.9,248.3L510.7,249.2L508.4,250.2L506.6,253.1L506.7,255.2L503.9,255.6L501.1,255.9L498.3,256.2L495.6,256.5L492.4,256.9L489.2,257.2L486.0,257.5L482.8,257.8L479.6,258.1L476.3,258.4L473.1,258.6L470.1,258.9L467.1,259.1L464.0,259.3L461.0,259.5L458.0,259.7L454.9,259.9L456.6,258.4L457.1,256.2L457.6,253.9L458.4,251.4L459.2,249.0L460.5,245.7Z"/><path fill="#dddddd" d="M463.2,238.0L466.0,237.4L468.8,236.8L470.3,234.4L471.8,231.9L471.9,228.7L473.7,227.8L475.5,226.8L477.7,227.4L479.8,228.0L481.9,227.3L483.9,226.5L486.1,223.6L488.3,222.8L490.5,221.9L491.5,219.5L492.5,217.0L494.9,216.3L497.3,215.6L497.2,212.2L499.8,211.9L501.2,213.3L502.6,214.8L505.0,215.4L507.4,216.0L510.0,215.1L512.6,214.3L514.4,215.7L516.3,217.1L516.7,219.7L518.3,222.0L519.9,224.4L522.9,225.6L521.1,227.7L519.3,229.7L517.6,231.7L515.0,233.7L512.5,235.6L510.0,237.6L506.6,237.9L503.2,238.3L499.8,238.6L496.5,238.9L493.1,239.2L489.7,239.5L486.3,239.7L482.9,240.0L479.5,240.2L476.1,240.4L472.8,240.7L473.1,242.6L470.2,242.8L467.3,243.0L464.4,243.2L461.4,243.4L463.2,242.2L463.2,240.1Z"/><path fill="#dddddd" d="M471.9,228.7L472.2,226.5L473.9,223.2L475.8,220.9L475.2,218.2L474.5,215.6L474.8,211.8L474.4,208.2L474.1,204.5L473.8,200.8L473.5,197.2L473.2,193.5L472.8,189.8L472.5,186.2L474.2,186.6L476.0,187.0L478.0,185.7L480.7,185.4L483.4,185.1L486.0,184.9L488.7,184.6L491.3,184.3L494.0,184.0L494.0,184.6L494.5,188.5L494.9,192.5L495.4,196.4L495.8,200.4L496.3,204.3L496.7,208.3L497.2,212.2L497.3,215.6L494.9,216.3L492.5,217.0L491.5,219.5L490.5,221.9L488.3,222.8L486.1,223.6L483.9,226.5L481.9,227.3L479.8,228.0L477.7,227.4L475.5,226.8L473.7,227.8Z"/><path fill="#dddddd" d="M497.2,212.2L496.7,208.3L496.3,204.3L495.8,200.4L495.4,196.4L494.9,192.5L494.5,188.5L494.0,184.6L496.7,184.2L499.3,183.8L502.0,183.4L504.6,183.0L506.6,184.0L508.5,184.9L510.9,184.6L513.6,184.2L516.4,183.8L518.7,183.5L520.5,181.7L522.2,180.0L524.7,178.4L527.1,176.8L527.7,180.3L528.3,183.9L528.9,187.5L529.5,191.1L528.4,191.9L529.6,195.8L529.0,198.6L528.3,201.4L526.2,203.4L524.1,205.3L522.4,207.8L522.4,209.9L520.6,210.5L518.8,211.0L519.3,214.7L517.8,215.9L516.3,217.1L514.4,215.7L512.6,214.3L510.0,215.1L507.4,216.0L505.0,215.4L502.6,214.8L501.2,213.3L499.8,211.9Z"/><path fill="#dddddd" d="M478.0,185.7L480.7,185.4L483.4,185.1L486.0,184.9L488.7,184.6L491.3,184.3L494.0,184.0L494.0,184.6L496.7,184.2L499.3,183.8L502.0,183.4L504.6,183.0L505.6,181.1L506.5,179.3L506.5,176.6L508.6,174.7L510.8,172.8L510.8,170.6L510.8,168.5L509.6,165.4L508.5,162.3L506.8,160.2L505.1,158.0L503.5,158.7L501.9,159.5L500.2,161.3L498.5,163.1L499.7,160.6L500.9,158.0L502.0,155.2L501.6,151.7L501.1,148.3L500.1,146.6L499.1,144.8L496.8,144.3L494.4,143.8L491.8,142.7L489.3,141.5L488.6,143.6L487.9,145.7L485.8,147.3L483.7,148.8L482.0,150.4L480.2,151.9L479.3,154.1L478.7,157.6L478.1,161.2L478.5,164.9L479.8,167.9L481.1,171.0L481.5,173.1L481.9,175.2L481.1,178.5L480.2,181.8L479.1,183.7ZM446.7,137.1L448.9,135.9L451.0,134.7L453.2,133.5L455.5,132.3L457.9,131.0L460.2,129.8L462.3,127.9L464.3,126.1L463.4,128.6L462.6,131.2L460.9,133.7L463.6,134.4L466.2,135.1L468.9,135.7L470.8,135.8L472.8,135.9L474.8,135.9L477.3,134.5L479.7,133.0L481.9,132.4L484.0,131.9L486.2,131.3L487.7,134.5L489.5,134.1L491.3,133.6L493.4,136.0L495.3,138.4L493.4,139.2L491.4,139.9L489.5,140.7L487.5,140.1L485.4,139.6L483.3,139.0L480.8,139.9L478.3,140.9L477.0,142.9L475.7,144.9L474.1,144.2L472.6,143.6L471.3,146.0L470.0,148.4L468.7,150.8L467.0,148.3L465.6,145.5L464.3,142.7L461.7,142.1L459.2,141.5L456.6,140.9L454.1,140.4L451.6,140.0L449.1,139.6Z"/><path fill="#dddddd" d="M434.1,135.6L436.8,134.9L439.5,134.3L442.1,133.6L443.6,133.0L445.1,135.0L446.7,137.1L449.1,139.6L451.6,140.0L454.1,140.4L456.6,140.9L459.2,141.5L461.7,142.1L464.3,142.7L465.6,145.5L467.0,148.3L468.7,150.8L467.6,153.6L466.5,156.3L466.2,156.9L467.8,154.5L469.3,152.0L470.9,149.6L473.1,148.8L472.1,151.6L471.1,154.4L470.1,157.1L469.5,159.8L469.0,162.5L468.7,165.4L468.5,168.3L468.2,171.1L468.9,174.9L469.6,178.6L466.9,178.8L464.1,179.0L461.3,179.2L458.5,179.4L455.8,179.5L453.0,179.7L450.2,179.8L447.4,180.0L446.9,178.5L445.0,176.7L443.2,175.0L442.7,172.3L442.3,169.7L441.5,166.0L439.1,163.7L436.7,161.4L435.2,160.4L433.6,159.4L431.8,158.2L430.1,156.9L429.6,154.3L429.7,151.3L429.8,148.4L431.4,145.6L433.0,142.8L432.9,139.7L432.8,136.6Z"/><path fill="#dddddd" d="M529.5,191.1L528.9,187.5L528.3,183.9L527.7,180.3L527.1,176.8L528.9,175.5L530.7,174.2L532.5,172.9L533.0,175.8L535.9,175.3L538.8,174.8L541.6,174.3L544.5,173.7L547.3,173.2L550.2,172.6L553.0,172.1L555.8,171.5L558.7,170.9L561.5,170.3L564.4,169.7L567.2,169.1L568.8,170.9L570.5,172.8L572.1,173.7L573.8,174.6L572.6,177.0L571.3,179.4L571.5,182.9L573.8,184.9L576.1,186.8L575.1,188.7L574.1,190.6L571.9,192.1L570.2,192.1L569.0,193.7L566.1,194.3L563.1,194.9L560.2,195.5L557.2,196.1L554.3,196.7L551.3,197.2L548.4,197.8L545.4,198.3L542.4,198.9L539.5,199.4L536.7,199.9L533.9,200.3L531.1,200.8L530.6,197.5L530.0,194.3Z"/><path fill="#dddddd" d="M575.0,134.6L577.7,133.9L580.4,133.2L583.1,132.5L585.8,131.8L588.5,131.1L588.9,133.2L589.3,135.4L588.1,138.4L586.9,141.5L586.6,144.3L586.4,147.1L586.6,150.3L586.8,153.6L587.5,156.4L585.4,156.8L583.4,157.2L581.3,157.7L580.7,154.9L580.0,152.1L579.4,149.4L577.9,149.2L577.9,147.0L577.9,144.8L576.9,142.3L575.9,139.8L575.4,137.2Z"/><path fill="#dddddd" d="M588.5,131.1L588.7,128.9L590.8,127.3L591.8,130.6L592.9,133.9L594.1,137.4L595.2,141.0L596.3,144.5L597.6,146.9L598.8,149.4L599.8,149.4L599.5,151.7L598.9,151.8L597.0,153.7L596.3,154.4L593.4,155.1L590.4,155.7L587.5,156.4L586.8,153.6L586.6,150.3L586.4,147.1L586.6,144.3L586.9,141.5L588.1,138.4L589.3,135.4L588.9,133.2Z"/><path fill="#dddddd" d="M590.8,127.3L591.9,125.2L593.1,123.0L594.3,120.9L594.2,118.7L594.2,116.5L595.1,114.1L595.8,111.0L596.4,107.9L597.1,104.8L597.8,101.7L599.5,102.9L600.9,103.8L602.7,102.3L604.6,100.8L606.8,101.7L609.0,102.7L610.2,106.6L611.4,110.5L612.7,114.5L614.4,115.6L616.0,116.8L617.1,120.0L619.1,121.5L621.2,123.0L622.1,123.5L620.3,125.9L618.4,128.2L616.6,129.9L614.7,131.6L612.3,131.7L610.0,131.9L609.4,135.3L607.8,136.9L606.1,138.5L604.4,140.1L603.2,141.5L602.0,143.0L601.2,144.9L600.3,146.8L599.8,149.4L598.8,149.4L597.6,146.9L596.3,144.5L595.2,141.0L594.1,137.4L592.9,133.9L591.8,130.6Z"/><path fill="#dddddd" d="M526.8,235.3L530.1,234.9L533.4,234.4L536.6,233.9L539.9,233.4L543.1,232.9L546.4,232.3L549.6,231.8L552.9,231.2L556.1,230.6L559.4,230.1L562.6,229.5L565.9,228.8L569.1,228.2L572.3,227.6L575.6,226.9L577.4,230.4L575.4,231.3L573.0,232.7L570.7,234.0L573.5,233.7L576.3,233.3L577.5,235.0L578.7,236.6L577.5,238.3L576.3,239.9L573.7,240.2L571.2,240.4L572.8,241.7L574.4,243.0L572.8,243.9L571.2,244.8L573.0,244.9L574.8,245.1L574.4,247.4L571.9,248.4L569.5,249.5L567.3,252.1L565.2,254.7L564.4,256.7L563.7,258.8L561.1,259.2L558.5,259.6L555.6,257.6L552.7,255.6L549.9,253.5L547.0,251.5L543.8,251.9L540.6,252.4L537.5,252.8L535.7,250.1L534.8,250.8L534.7,249.7L531.7,250.0L528.8,250.3L525.9,250.6L522.9,250.9L520.0,252.4L517.1,253.9L514.5,254.2L511.9,254.6L509.3,254.9L506.7,255.2L506.6,253.1L508.4,250.2L510.7,249.2L512.9,248.3L515.0,246.0L517.1,243.6L519.9,242.2L522.2,241.6L524.5,241.0L525.7,238.2Z"/><path fill="#dddddd" d="M495.6,256.5L498.3,256.2L501.1,255.9L503.9,255.6L506.7,255.2L509.3,254.9L511.9,254.6L514.5,254.2L517.1,253.9L515.5,257.3L517.6,258.2L519.7,259.1L521.6,261.7L523.5,264.3L526.3,266.4L529.0,268.4L531.6,270.7L534.2,273.0L535.0,275.0L535.8,277.1L537.2,279.0L538.7,280.9L541.4,282.3L540.4,284.3L539.5,286.2L539.2,288.9L539.0,291.7L538.5,294.3L538.0,297.0L535.7,297.2L533.4,297.3L533.5,301.5L531.8,299.5L528.4,299.8L524.9,300.1L521.4,300.3L517.9,300.6L514.4,300.8L510.9,301.1L507.4,301.3L505.8,298.3L505.2,295.4L504.7,292.5L504.4,288.5L504.2,284.5L503.0,281.6L501.9,278.7L500.8,275.0L499.7,271.3L498.7,267.6L497.6,263.9L496.6,260.2Z"/><path fill="#dddddd" d="M505.8,298.3L507.4,301.3L510.9,301.1L514.4,300.8L517.9,300.6L521.4,300.3L524.9,300.1L528.4,299.8L531.8,299.5L533.5,301.5L533.4,297.3L535.7,297.2L538.0,297.0L538.8,299.1L539.6,301.2L540.7,304.3L541.9,307.3L543.9,310.8L545.9,314.2L548.2,316.8L550.5,319.3L550.6,323.1L552.1,326.0L553.6,329.0L555.0,332.0L556.7,333.8L558.3,335.7L558.7,339.2L559.0,342.7L559.4,346.2L558.6,348.9L557.9,351.7L555.3,352.9L552.8,354.1L550.9,354.4L549.1,351.3L547.4,348.1L545.0,346.9L542.6,345.6L541.1,343.7L539.6,341.8L537.3,339.5L535.1,336.4L533.0,333.2L533.4,331.0L533.8,328.8L531.0,329.7L530.5,327.4L529.9,325.1L530.2,321.9L530.4,318.6L528.5,315.2L525.3,312.9L522.2,310.7L519.1,308.7L516.1,306.7L513.1,308.6L510.3,310.8L507.5,313.0L504.2,312.5L502.8,310.7L501.5,308.9L498.0,307.5L494.7,306.1L491.5,306.6L488.3,307.0L485.9,307.6L483.6,308.2L484.3,304.2L483.2,302.4L482.1,300.7L485.5,300.4L488.9,300.0L492.3,299.7L495.7,299.4L499.0,299.0L502.4,298.6ZM549.6,359.2L547.4,361.0L544.1,362.3L543.3,360.1L546.5,358.2Z"/><path fill="#dddddd" d="M233.2,300.9L232.7,300.8L232.2,300.6L231.7,300.5L231.2,300.3L230.7,300.2L230.2,300.0L229.7,299.9L229.2,299.8L228.7,299.8L228.2,299.8L227.7,299.8L227.2,299.8L226.7,299.8L226.2,299.7L225.7,299.7L225.2,299.7L224.7,299.7L224.2,299.6L223.7,299.6L223.2,299.5L222.7,299.4L222.1,299.2L221.6,299.1L221.1,299.0L220.6,298.8L220.1,298.6L219.6,298.5L219.1,298.3L218.6,298.2L218.2,298.0L217.7,297.9L217.2,297.7L216.7,297.6L216.2,297.4L215.8,297.3L215.3,297.1L214.8,297.0L214.3,296.8L213.9,296.7L213.4,296.5L212.9,296.3L212.5,296.6L212.1,296.8L211.6,297.1L211.2,297.4L210.7,297.6L210.3,297.9L209.8,298.1L209.3,298.5L208.8,298.8L208.3,299.1L207.8,299.4L207.3,299.7L206.8,300.0L206.3,300.4L205.7,300.7L205.3,301.2L204.8,301.8L204.3,302.4L203.8,303.0L203.3,303.6L202.8,304.1L202.4,304.8L202.0,305.5L201.5,306.2L201.9,306.9L202.2,307.7L202.5,308.4L202.8,309.2L202.7,310.1L202.5,311.0L203.1,311.2L203.6,311.4L204.1,311.6L204.7,311.8L205.0,312.3L205.3,312.8L205.7,313.2L205.2,313.8L204.7,314.5L204.1,315.1L203.6,314.7L203.1,314.2L202.5,313.8L202.0,313.3L201.5,312.9L200.9,313.0L200.4,313.1L199.8,313.3L199.2,313.4L198.6,313.5L198.0,313.6L197.5,313.9L196.9,314.2L196.3,314.4L195.7,314.7L195.1,314.9L194.4,315.2L194.8,316.0L195.1,316.8L195.5,317.7L195.8,318.5L196.2,319.3L196.7,319.6L197.3,319.8L197.9,320.0L198.5,320.3L199.0,320.3L199.5,320.4L200.1,320.4L200.6,320.5L201.1,320.5L201.7,320.6L202.2,320.5L202.8,320.3L203.3,320.2L203.9,320.1L204.4,320.0L205.0,319.8L205.0,321.1L204.9,322.5L204.9,323.8L204.4,323.9L203.9,324.1L203.3,324.3L202.8,324.5L202.2,324.7L201.6,324.8L200.9,325.0L200.3,325.2L199.7,325.4L199.0,325.6L198.4,325.7L197.8,326.3L197.3,326.8L196.7,327.3L196.3,328.1L195.8,328.9L195.3,329.6L194.8,330.4L195.0,331.2L195.2,332.0L195.4,332.8L195.8,333.3L196.1,333.9L196.4,334.5L196.8,335.4L197.1,336.3L197.5,337.3L198.2,337.3L198.9,337.3L199.6,337.3L200.3,337.3L200.5,338.2L200.7,339.1L200.9,340.0L201.0,341.1L201.0,342.2L201.8,342.2L202.5,342.1L203.2,342.0L204.0,342.0L204.6,342.4L205.2,342.7L205.8,343.1L206.4,343.5L206.9,342.9L207.4,342.3L208.2,342.4L208.9,342.4L209.6,342.5L210.3,342.6L210.0,343.6L209.6,344.6L209.2,345.5L208.7,346.4L208.1,347.3L207.4,348.0L206.7,348.7L205.9,349.4L205.2,350.1L204.4,350.8L203.7,351.5L203.0,351.9L202.4,352.2L201.7,352.6L201.0,353.0L200.3,353.4L199.7,353.8L199.0,354.3L198.3,354.7L197.6,355.1L196.9,355.6L196.0,355.7L195.2,355.9L194.4,356.1L193.6,356.3L192.8,356.5L193.6,356.5L194.4,356.5L195.1,356.6L195.9,356.6L196.7,356.7L197.5,356.4L198.2,356.2L199.0,356.0L199.7,355.8L200.5,355.6L201.2,355.3L201.9,355.0L202.7,354.7L203.4,354.4L204.2,354.1L204.9,353.8L205.6,353.5L206.4,353.0L207.1,352.6L207.8,352.2L208.5,351.7L209.2,351.2L210.0,350.8L210.5,350.1L211.0,349.5L211.6,348.9L212.1,348.3L212.7,347.7L213.3,347.2L213.9,346.6L214.5,346.1L215.1,345.5L215.7,345.0L216.2,344.0L216.6,343.0L217.1,342.0L217.6,341.2L218.0,340.5L218.5,339.7L218.9,339.0L219.4,337.9L219.8,336.7L220.1,335.6L220.7,335.1L221.3,334.5L221.8,334.0L222.4,333.5L222.9,333.9L223.4,334.3L222.7,334.6L222.1,335.0L221.5,335.3L220.9,335.6L220.7,336.6L220.5,337.6L220.3,338.7L220.1,339.7L220.1,341.2L220.9,340.9L221.6,340.5L222.3,340.2L223.0,339.9L223.7,339.5L224.4,339.1L225.0,338.7L225.7,338.3L226.4,337.9L226.6,336.7L226.8,335.6L227.0,334.4L227.7,334.4L228.4,334.3L229.0,334.2L229.7,334.2L230.4,334.7L231.1,335.3L231.8,335.8L232.5,336.1L233.2,336.3L234.0,336.6L234.7,336.9L235.4,336.8L236.0,336.7L236.7,336.6L237.3,336.5L238.0,336.3L238.7,336.2L239.3,336.1L240.0,336.3L240.7,336.4L241.4,336.6L242.0,336.8L242.7,336.9L243.5,337.2L244.3,337.5L245.0,337.8L245.8,338.1L246.6,338.3L247.3,338.7L248.0,339.1L248.7,339.4L249.4,339.8L250.1,340.1L250.8,340.9L251.5,341.7L252.2,342.4L253.0,343.2L253.8,344.0L254.5,344.9L255.3,345.7L256.1,346.5L256.9,347.1L257.8,347.6L258.6,348.1L259.4,348.6L260.3,349.1L261.0,349.3L261.7,349.4L262.4,349.6L263.2,349.7L263.8,349.4L264.4,349.0L265.0,348.6L265.6,348.3L266.2,347.9L265.9,346.8L265.6,345.7L265.4,344.6L264.5,344.3L263.6,344.0L262.6,343.7L261.7,343.4L260.8,343.1L260.0,342.3L259.1,341.4L258.3,340.6L257.4,339.8L256.6,338.9L255.8,338.1L255.0,337.6L254.2,337.0L253.4,336.5L252.7,335.9L251.9,335.4L251.2,334.8L250.4,334.3L250.0,335.0L249.5,335.7L249.0,336.4L248.6,337.1L248.1,337.8L247.6,338.5L247.5,338.1L246.7,337.5L245.9,336.8L245.2,336.2L244.4,335.5L243.6,334.8L243.4,333.9L242.7,334.1L242.0,334.3L241.4,334.5L240.7,334.7L240.0,334.8L239.7,333.4L239.4,332.0L239.2,330.6L238.9,329.1L238.6,327.7L238.3,326.3L238.0,324.9L237.7,323.5L237.4,322.0L237.2,320.6L236.9,319.2L236.6,317.8L236.3,316.4L236.0,315.0L235.7,313.5L235.5,312.1L235.2,310.7L234.9,309.3L234.6,307.9L234.3,306.5L234.0,305.1L233.8,303.7L233.5,302.3ZM214.5,348.3L215.2,348.7L215.9,349.1L216.5,349.4L217.2,349.1L217.8,348.7L218.5,348.3L219.1,347.9L219.7,347.5L219.6,346.6L219.5,345.7L218.9,345.7L218.3,345.7L217.7,345.7L217.1,346.1L216.4,346.5L215.8,346.8L215.1,347.2L214.8,347.7ZM188.7,358.4L187.8,358.8L187.0,359.2L186.2,359.6L185.4,360.0L184.5,360.3L183.6,360.6L182.6,360.9L183.0,360.2L183.4,359.5L184.2,359.3L184.9,359.0L185.7,358.7L186.4,358.4L187.1,358.1L187.9,358.2ZM192.4,356.4L193.2,356.2L194.1,356.1L194.9,355.9L195.7,355.8L196.3,356.6L195.6,356.7L194.8,356.8L194.1,357.0L193.4,357.1L192.7,357.2ZM186.7,321.7L187.4,321.6L188.1,321.5L188.7,321.4L189.4,321.2L189.8,321.7L190.3,322.1L190.7,322.5L191.2,322.9L191.6,323.3L191.1,323.5L190.5,323.6L189.9,323.8L189.3,323.9L188.7,323.5L188.2,323.0L187.7,322.6L187.2,322.1ZM193.0,335.0L193.6,335.1L194.2,335.2L194.8,335.3L194.5,336.2L194.3,337.1L193.7,336.9L193.2,336.7L192.7,336.5L192.1,336.3L192.6,335.7Z"/></g>
<g class="halo-y"><use href="#pOR"/><use href="#pOK"/><use href="#pWV"/><use href="#pSC"/></g>
<g class="halo-t"><use href="#pWA"/><use href="#pCA"/><use href="#pNV"/><use href="#pUT"/><use href="#pCO"/><use href="#pAZ"/><use href="#pNM"/><use href="#pND"/><use href="#pMN"/><use href="#pIL"/><use href="#pLA"/><use href="#pMS"/><use href="#pNY"/><use href="#pMA"/><use href="#pCT"/><use href="#pRI"/><use href="#pNJ"/><use href="#pVA"/><use href="#pMD"/><use href="#pDE"/></g>
<g class="s in-y" fill="#f8d60a"><use href="#pOR"/><use href="#pOK"/><use href="#pWV"/><use href="#pSC"/></g>
<g class="s in-t" fill="#06daa2"><use href="#pWA"/><use href="#pCA"/><use href="#pNV"/><use href="#pUT"/><use href="#pCO"/><use href="#pAZ"/><use href="#pNM"/><use href="#pND"/><use href="#pMN"/><use href="#pIL"/><use href="#pLA"/><use href="#pMS"/><use href="#pNY"/><use href="#pMA"/><use href="#pCT"/><use href="#pRI"/><use href="#pNJ"/><use href="#pVA"/><use href="#pMD"/><use href="#pDE"/></g>
<path class="s hi" fill="#06daa2" d="M316.2,348.1L319.7,349.6L323.2,351.0L325.3,353.5L327.3,356.0L325.0,357.4L322.6,358.8L320.3,360.3L318.4,362.2L316.2,360.3L315.4,356.8L314.7,353.4L316.7,350.2ZM308.1,340.8L310.1,341.3L312.6,340.8L315.1,342.9L313.1,343.8L311.1,344.7L310.1,342.4L308.1,342.1ZM308.1,345.0L309.6,344.5L309.6,345.5ZM304.6,341.3L307.1,341.8L306.1,343.1ZM302.0,338.7L305.0,338.6L307.9,338.5L306.6,339.7L304.6,339.6L302.5,339.4ZM292.2,334.2L295.3,332.8L296.9,334.9L298.5,337.1L296.3,337.1L294.0,337.1ZM277.2,329.1L279.6,327.2L282.0,329.1L280.5,331.0L277.5,329.9ZM272.5,330.1L274.5,329.6L273.5,331.6Z"/>
</svg>
<div class="t" id="title">SMART Health Card Accessibility by State</div>
<div class="t" id="sub">States that have rolled out SMART Health Cards</div>
<div class="sw" style="left:179.6px;background:#f8d60a"></div>
<div class="t lg" style="left:192.2px">Coming Soon</div>
<div class="sw" style="left:252.4px;background:#06daa2"></div>
<div class="t lg" style="left:264.5px">SMART Health Card</div>
<div class="t" id="credit">Created with Datawrapper</div>
<div class="t cap" style="top:408.4px">Half of US states either already offer accessibility to SMART</div>
<div class="t cap" style="top:426.7px;letter-spacing:0.76px">Health Cards or have it in the works.</div>
<div class="t" id="dw">DATAWRAPPER</div>
</body></html>
